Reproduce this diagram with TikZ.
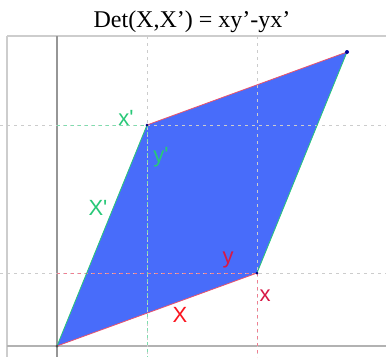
\documentclass[tikz,border=0pt]{standalone}
\usepackage{fontspec}
\setmainfont{Liberation Serif}
\setsansfont{Liberation Sans}
\definecolor{areablue}{RGB}{72,108,250}
\definecolor{vecgreen}{RGB}{40,200,120}
\definecolor{vecred}{RGB}{230,40,70}
\definecolor{labred}{RGB}{250,20,30}
\definecolor{labcrim}{RGB}{215,25,70}
\definecolor{framegray}{RGB}{205,205,205}
\definecolor{axisgray}{RGB}{150,150,150}
\tikzset{
  frameline/.style={color=framegray,line width=1.4pt},
  axisline/.style={color=axisgray,line width=1.4pt},
  guide/.style={color=black!20,dash pattern=on 3pt off 4pt,line width=0.6pt},
  guidegreen/.style={color=vecgreen!60,dash pattern=on 3pt off 4pt,line width=0.8pt},
  guidered/.style={color=vecred!60,dash pattern=on 3pt off 4pt,line width=0.8pt},
  lab/.style={font=\sffamily\fontsize{22}{22}\selectfont,inner sep=0pt}
}
\begin{document}
\begin{tikzpicture}[x=1pt,y=-1pt]
\useasboundingbox (0,0) rectangle (386,357);
% Corners of the parallelogram
\coordinate (O) at (57,346);
\coordinate (A) at (257,273);
\coordinate (B) at (147,125);
\coordinate (C) at (347,52);
% Frame and axes
\draw[frameline] (7,36) -- (386,36);
\draw[frameline] (7,36) -- (7,357);
\draw[axisline] (57,36) -- (57,357);
\draw[frameline,color=black!30] (7,346) -- (386,346);
% Area
\fill[areablue] (O) -- (A) -- (C) -- (B) -- cycle;
% Guide lines
\draw[guide] (0,125) -- (386,125);
\draw[guide] (0,273) -- (386,273);
\draw[guide] (147,36) -- (147,357);
\draw[guide] (257,36) -- (257,357);
\draw[guidegreen] (57,125) -- (B);
\draw[guidegreen] (B) -- (147,357);
\draw[guidered] (57,273) -- (A);
\draw[guidered] (A) -- (257,357);
% Edges
\draw[vecred!80,line width=0.8pt] (O) -- (A);
\draw[vecred!80,line width=0.8pt] (B) -- (C);
\draw[vecgreen,line width=0.8pt] (O) -- (B);
\draw[vecgreen,line width=0.8pt] (A) -- (C);
\fill[black!70] (O) circle(1.5pt);
\fill[blue!50!black] (A) circle(1.5pt);
\fill[blue!50!black] (B) circle(1.5pt);
\fill[blue!60!black] (C) circle(2pt);
% Labels
\node[font=\fontsize{24}{24}\selectfont,anchor=base,inner sep=0pt] (title) at (192,27) {Det(X,X’) = xy’-yx’};
\node[lab,text=vecgreen] (xp) at (126,118) {x\textquotesingle};
\node[lab,text=vecgreen] (yp) at (161,157) {y\textquotesingle};
\node[lab,text=vecgreen] (Xp) at (98,208) {X\textquotesingle};
\node[lab,text=labcrim] (y) at (228,260) {y};
\node[lab,text=labcrim] (x) at (265,296) {x};
\node[lab,text=labred] (X) at (180,315) {X};
\end{tikzpicture}
\end{document}
